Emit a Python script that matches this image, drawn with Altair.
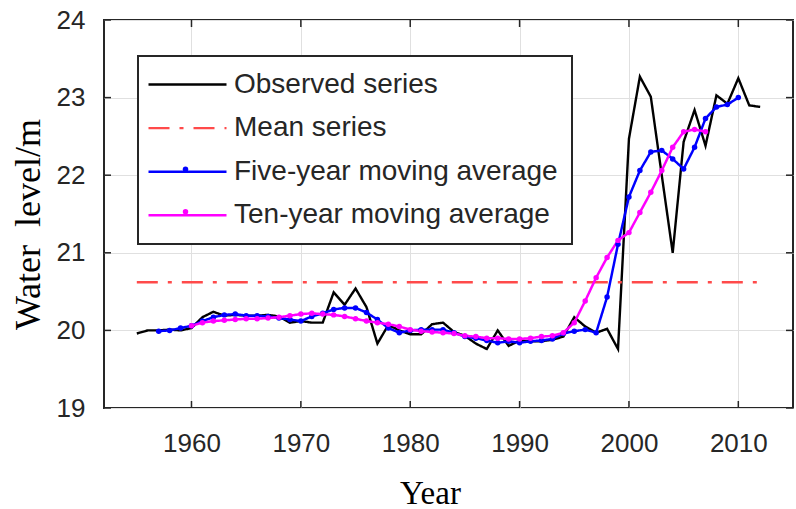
import altair as alt
import pandas as pd

# ---------------- data ----------------
years_obs = list(range(1955, 2013))
observed = [19.96, 20.00, 20.00, 20.01, 20.00, 20.03, 20.17, 20.24, 20.19, 20.20,
            20.19, 20.19, 20.20, 20.18, 20.10, 20.12, 20.10, 20.10, 20.49, 20.33,
            20.54, 20.30, 19.83, 20.07, 20.00, 19.95, 19.95, 20.08, 20.10, 19.98,
            19.93, 19.83, 19.76, 20.00, 19.80, 19.87, 19.86, 19.86, 19.88, 19.92,
            20.17, 20.05, 19.97, 20.02, 19.76, 22.47, 23.27, 23.01, 22.00, 21.00,
            22.43, 22.84, 22.38, 23.03, 22.92, 23.25, 22.90, 22.88]

mean_years = [1955, 2012]
mean_values = [20.62, 20.62]

years_ma5 = list(range(1957, 2011))
ma5 = [19.99, 20.00, 20.03, 20.06, 20.12, 20.17, 20.20, 20.21, 20.19, 20.19,
       20.18, 20.16, 20.14, 20.12, 20.18, 20.22, 20.27, 20.29, 20.29, 20.23,
       20.14, 20.03, 19.97, 20.00, 20.01, 20.01, 20.01, 19.97, 19.92, 19.90,
       19.87, 19.84, 19.86, 19.84, 19.86, 19.87, 19.89, 19.96, 19.99, 20.01,
       19.97, 20.43, 21.11, 21.72, 22.06, 22.30, 22.32, 22.21, 22.08, 22.36,
       22.73, 22.88, 22.91, 23.00]

years_ma10 = list(range(1960, 2008))
ma10 = [20.06, 20.10, 20.12, 20.13, 20.14, 20.15, 20.15, 20.16, 20.17, 20.19,
        20.21, 20.22, 20.21, 20.20, 20.18, 20.15, 20.12, 20.10, 20.08, 20.05,
        20.01, 19.99, 19.98, 19.97, 19.96, 19.93, 19.92, 19.90, 19.90, 19.89,
        19.89, 19.90, 19.92, 19.93, 19.97, 20.10, 20.38, 20.68, 20.94, 21.16,
        21.26, 21.52, 21.78, 22.06, 22.36, 22.56, 22.59, 22.56]

x_ticks = [1960, 1970, 1980, 1990, 2000, 2010]
y_ticks = [19, 20, 21, 22, 23, 24]

S_OBS = "Observed series"
S_MEAN = "Mean series"
S_MA5 = "Five-year moving average"
S_MA10 = "Ten-year moving average"
series_domain = [S_OBS, S_MEAN, S_MA5, S_MA10]
marker_domain = [S_MA5, S_MA10]

rows = []
for yr, v in zip(years_obs, observed):
    rows.append({"year": yr, "value": v, "series": S_OBS})
for yr, v in zip(mean_years, mean_values):
    rows.append({"year": yr, "value": v, "series": S_MEAN})
for yr, v in zip(years_ma5, ma5):
    rows.append({"year": yr, "value": v, "series": S_MA5})
for yr, v in zip(years_ma10, ma10):
    rows.append({"year": yr, "value": v, "series": S_MA10})
df = pd.DataFrame(rows)
df["marker"] = df["series"]
df_pts = df[df["series"].isin(marker_domain)]

# ---------------- styling ----------------
W, H = 689, 388
FRAME = "#262626"
colors = ["#000000", "#ff4a4a", "#0000ff", "#ff00ff"]
dot_colors = ["#0000ff", "#ff00ff"]
dashes = [[1, 0], [21, 10, 4, 10], [1, 0], [1, 0]]
widths = [2.4, 2.5, 1.8, 1.8]

x_scale = alt.Scale(domain=[1952, 2015], nice=False, zero=False)
y_scale = alt.Scale(domain=[19, 24], nice=False, zero=False)

ROW = 42.6
common_leg = dict(title=None, orient="none", legendX=34,
                  padding=14, labelFont="Liberation Sans", labelFontSize=28,
                  labelLimit=0, rowPadding=ROW - 28)

legend_lines = alt.Legend(
    legendY=36, strokeColor=FRAME, fillColor="white", labelColor="#262626",
    symbolType="M-3,0H3", symbolSize=676, symbolStrokeWidth=2,
    symbolOffset=21, labelOffset=32, zindex=0, **common_leg)

legend_dots = alt.Legend(
    legendY=36 + 2 * ROW, strokeColor="transparent", fillColor="transparent",
    labelColor="transparent", labelExpr="''", symbolType="circle", symbolSize=30,
    symbolStrokeWidth=0, symbolOffset=19.5, labelOffset=32, zindex=1,
    **common_leg)

x_axis = alt.Axis(values=x_ticks, format="d", title="Year", grid=True,
                  gridColor="#e0e0e0", gridWidth=1, ticks=False, tickSize=0,
                  domain=False, labelFont="Liberation Sans", labelFontSize=26,
                  labelColor="#262626", labelPadding=22,
                  titleFont="Liberation Serif", titleFontSize=33,
                  titleFontWeight="normal", titleColor="black",
                  titleX=326, titleY=95, titleBaseline="alphabetic",
                  titleAlign="center")
y_axis = alt.Axis(values=y_ticks, format="d", title="Water\u00a0\u00a0level/m",
                  grid=True, gridColor="#e0e0e0", gridWidth=1, ticks=False,
                  tickSize=0, domain=False, labelFont="Liberation Sans",
                  labelFontSize=26, labelColor="#262626", labelPadding=19,
                  titleFont="Liberation Serif", titleFontSize=36,
                  titleFontWeight="normal", titleColor="black",
                  titleAngle=270, titleX=-65, titleY=204,
                  titleAlign="center", titleBaseline="alphabetic")

lines = alt.Chart(df).mark_line().encode(
    x=alt.X("year:Q", scale=x_scale, axis=x_axis),
    y=alt.Y("value:Q", scale=y_scale, axis=y_axis),
    color=alt.Color("series:N", scale=alt.Scale(domain=series_domain, range=colors),
                    legend=legend_lines),
    strokeDash=alt.StrokeDash("series:N",
                              scale=alt.Scale(domain=series_domain, range=dashes),
                              legend=legend_lines),
    strokeWidth=alt.StrokeWidth("series:N",
                                scale=alt.Scale(domain=series_domain, range=widths),
                                legend=None),
)

points = alt.Chart(df_pts).mark_point(filled=True, size=30, opacity=1,
                                      shape="circle").encode(
    x=alt.X("year:Q", scale=x_scale),
    y=alt.Y("value:Q", scale=y_scale),
    fill=alt.Fill("marker:N", scale=alt.Scale(domain=marker_domain, range=dot_colors),
                  legend=legend_dots),
)

# inward tick marks on all four sides of the box
xt = pd.DataFrame({"year": x_ticks})
yt = pd.DataFrame({"value": y_ticks})
TL = 7
tick_style = dict(color=FRAME, strokeWidth=1.5)
xb = alt.Chart(xt).mark_rule(**tick_style).encode(
    x=alt.X("year:Q", scale=x_scale), y=alt.value(H), y2=alt.value(H - TL))
xtop = alt.Chart(xt).mark_rule(**tick_style).encode(
    x=alt.X("year:Q", scale=x_scale), y=alt.value(0), y2=alt.value(TL))
yl = alt.Chart(yt).mark_rule(**tick_style).encode(
    y=alt.Y("value:Q", scale=y_scale), x=alt.value(0), x2=alt.value(TL))
yr_ = alt.Chart(yt).mark_rule(**tick_style).encode(
    y=alt.Y("value:Q", scale=y_scale), x=alt.value(W - TL), x2=alt.value(W))

chart = alt.layer(xb, xtop, yl, yr_, lines, points).properties(
    width=W, height=H,
    autosize=alt.AutoSizeParams(type="none"),
    padding={"left": 104, "top": 20, "right": 3, "bottom": 101},
    background="white",
).configure_view(stroke=FRAME, strokeWidth=2).configure_legend(strokeWidth=2)

chart.save("out.html", embed_options={"renderer": "svg", "actions": False})
